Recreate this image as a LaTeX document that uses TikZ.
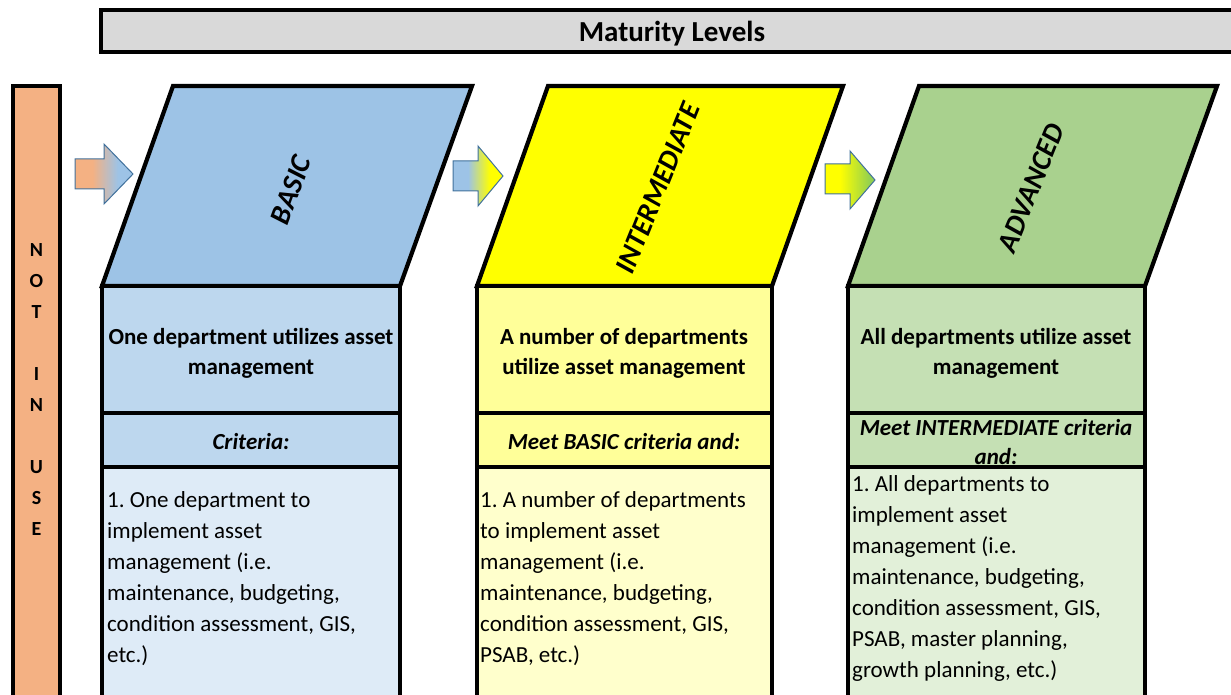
\documentclass[tikz,border=0pt]{standalone}
\usepackage{fontspec}
\setmainfont{Carlito}
\frenchspacing
\definecolor{salm}{HTML}{F4B183}
\definecolor{bluA}{HTML}{9DC3E6}
\definecolor{bluB}{HTML}{BDD7EE}
\definecolor{bluC}{HTML}{DEEBF7}
\definecolor{yelA}{HTML}{FFFF00}
\definecolor{yelB}{HTML}{FFFF99}
\definecolor{yelC}{HTML}{FFFFCC}
\definecolor{grnA}{HTML}{A9D18E}
\definecolor{grnB}{HTML}{C5E0B4}
\definecolor{grnC}{HTML}{E2F0D9}
\definecolor{grnD}{HTML}{92D050}
\definecolor{grayT}{HTML}{D9D9D9}
\definecolor{arrB}{HTML}{41719C}
\pgfdeclarehorizontalshading{shA}{100bp}{color(0bp)=(salm); color(40bp)=(salm); color(62bp)=(bluA); color(100bp)=(bluA)}
\pgfdeclarehorizontalshading{shB}{100bp}{color(0bp)=(bluA); color(40bp)=(bluA); color(62bp)=(yelA); color(100bp)=(yelA)}
\pgfdeclarehorizontalshading{shC}{100bp}{color(0bp)=(yelA); color(40bp)=(yelA); color(70bp)=(grnD); color(100bp)=(grnD)}
\tikzset{
  outl/.style={draw=black, line width=4.2pt, line join=miter},
  blockarrow/.style={draw=arrB, line width=1pt, line join=miter},
  headtxt/.style={font=\fontsize{23}{30}\selectfont\bfseries, align=center},
  crittxt/.style={font=\fontsize{23}{29}\selectfont\bfseries\itshape, align=center},
  bodytxt/.style={font=\fontsize{23}{31}\selectfont, align=left, anchor=north west, inner sep=0pt},
  leveltxt/.style={font=\fontsize{29}{32}\selectfont\bfseries\itshape},
  nottxt/.style={font=\fontsize{20}{31}\selectfont\bfseries, align=center}
}
\begin{document}
\begin{tikzpicture}[x=1pt,y=-1pt]
\useasboundingbox (0,0) rectangle (1231,695);
\clip (0,0) rectangle (1231,695);
% title bar
\path[outl, fill=grayT] (101,10) rectangle (1250,52);
\node[font=\fontsize{29}{32}\selectfont\bfseries] (title) at (672,34) {Maturity Levels};
% not in use bar
\path[outl, fill=salm] (13,86) rectangle (60,720);
\node[nottxt] (notinuse) at (36.5,390) {N\\O\\T\\[31pt]I\\N\\[31pt]U\\S\\E};
% arrows
\shadedraw[shading=shA, blockarrow] (75,159) -- (104,159) -- (104,144) -- (133,174) -- (104,204) -- (104,189) -- (75,189) -- cycle;
\shadedraw[shading=shB, blockarrow] (453,161) -- (478,161) -- (478,146) -- (503,176) -- (478,206) -- (478,191) -- (453,191) -- cycle;
\shadedraw[shading=shC, blockarrow] (825,164) -- (850,164) -- (850,151) -- (875,180) -- (850,209) -- (850,194) -- (825,194) -- cycle;
% BASIC column
\path[outl, fill=bluA] (102,286) -- (173,86) -- (472,86) -- (400,286) -- cycle;
\path[outl, fill=bluB] (102,286) rectangle (400,413);
\path[outl, fill=bluB] (102,413) rectangle (400,467);
\path[outl, fill=bluC] (102,467) rectangle (400,720);
\node[leveltxt, rotate=70] (basic) at (291,190) {BASIC};
\node[headtxt] (basichead) at (251,353) {One department utilizes asset\\management};
\node[crittxt] (basiccrit) at (251,442) {Criteria:};
\node[bodytxt] (basicbody) at (107,491) {1. One department to\\implement asset\\management (i.e.\\maintenance, budgeting,\\condition assessment, GIS,\\etc.)};
% INTERMEDIATE column
\path[outl, fill=yelA] (477,286) -- (548,86) -- (843,86) -- (772,286) -- cycle;
\path[outl, fill=yelB] (477,286) rectangle (772,413);
\path[outl, fill=yelB] (477,413) rectangle (772,467);
\path[outl, fill=yelC] (477,467) rectangle (772,720);
\node[leveltxt, rotate=68] (inter) at (658,188) {INTERMEDIATE};
\node[headtxt] (interhead) at (624,353) {A number of departments\\utilize asset management};
\node[crittxt] (intercrit) at (624,442) {Meet BASIC criteria and:};
\node[bodytxt] (interbody) at (480,491) {1. A number of departments\\to implement asset\\management (i.e.\\maintenance, budgeting,\\condition assessment, GIS,\\PSAB, etc.)};
% ADVANCED column
\path[outl, fill=grnA] (848,286) -- (919,86) -- (1217,86) -- (1145,286) -- cycle;
\path[outl, fill=grnB] (848,286) rectangle (1145,413);
\path[outl, fill=grnB] (848,413) rectangle (1145,467);
\path[outl, fill=grnC] (848,467) rectangle (1145,720);
\node[leveltxt, rotate=68] (adv) at (1031,188) {ADVANCED};
\node[headtxt] (advhead) at (996,353) {All departments utilize asset\\management};
\node[crittxt] (advcrit) at (996,442) {Meet INTERMEDIATE criteria\\and:};
\node[bodytxt] (advbody) at (852,475) {1. All departments to\\implement asset\\management (i.e.\\maintenance, budgeting,\\condition assessment, GIS,\\PSAB, master planning,\\growth planning, etc.)};
\end{tikzpicture}
\end{document}
